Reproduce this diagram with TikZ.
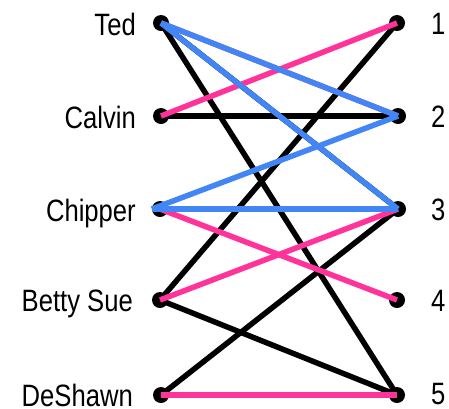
\documentclass[tikz,border=0pt]{standalone}
\usepackage{fontspec}
\setmainfont{Liberation Sans}[FakeStretch=0.83]
\usepackage{xcolor}
\usepackage{tikz}

\definecolor{matchpink}{RGB}{255,51,153}
\definecolor{matchblue}{RGB}{66,133,244}

\tikzset{
	vert/.style={circle, fill=black, inner sep=0pt, minimum size=16bp},
	namelbl/.style={anchor=base east, inner sep=0pt, font=\fontsize{31}{34}\selectfont},
	numlbl/.style={anchor=base west, inner sep=0pt, font=\fontsize{31}{34}\selectfont},
	edge/.style={line width=5.5bp},
}

\begin{document}
\begin{tikzpicture}[x=1bp, y=-1bp]
	\useasboundingbox (0,0) rectangle (449,408);
	% Lewa strona
	\node[vert] (ted) at (161,23) {};
	\node[vert] (calvin) at (161,116) {};
	\node[vert] (chipper) at (160,209) {};
	\node[vert] (betty) at (160,300) {};
	\node[vert] (deshawn) at (161,395) {};
	\node[namelbl] (tedl) at (136,35.5) {Ted};
	\node[namelbl] (calvinl) at (136,128.5) {Calvin};
	\node[namelbl] (chipperl) at (136,221.5) {Chipper};
	\node[namelbl] (bettyl) at (133,311) {Betty Sue};
	\node[namelbl] (deshawnl) at (133,406) {DeShawn};

	% Prawa strona
	\node[vert] (r1) at (397,23) {};
	\node[vert] (r2) at (398,116) {};
	\node[vert] (r3) at (398,209) {};
	\node[vert] (r4) at (397,300) {};
	\node[vert] (r5) at (397,395) {};
	\node[numlbl] (r1l) at (431,34.5) {1};
	\node[numlbl] (r2l) at (431,127.5) {2};
	\node[numlbl] (r3l) at (431,220.5) {3};
	\node[numlbl] (r4l) at (431,311.5) {4};
	\node[numlbl] (r5l) at (431,404) {5};

	% Krawedzie
	\draw[edge] (ted.center) -- (r3.center);
	\draw[edge] (ted.center) -- (r5.center);
	\draw[edge] (calvin.center) -- (r2.center);
	\draw[edge] (chipper.center) -- (r3.center);
	\draw[edge] (betty.center) -- (r1.center);
	\draw[edge] (betty.center) -- (r5.center);
	\draw[edge] (deshawn.center) -- (r3.center);
	\draw[edge] (deshawn.center) -- (r5.center);

	% Pierwsze skojarzenie
	\draw[edge, matchpink] (ted.center) -- (r2.center);
	\draw[edge, matchpink] (calvin.center) -- (r1.center);
	\draw[edge, matchpink] (chipper.center) -- (r4.center);
	\draw[edge, matchpink] (betty.center) -- (r3.center);
	\draw[edge, matchpink, yshift=1bp] (deshawn.center) -- (r5.center);

	% Drugie skojarzenie
	\draw[edge, matchblue, yshift=1bp] (ted.center) -- (r2.center);
	\draw[edge, matchblue, yshift=1bp] (ted.center) -- (r3.center);
	\draw[edge, matchblue] (chipper.west) -- (r2.center);
	\draw[edge, matchblue, yshift=-1bp] (chipper.west) -- (r3.center);
\end{tikzpicture}
\end{document}
